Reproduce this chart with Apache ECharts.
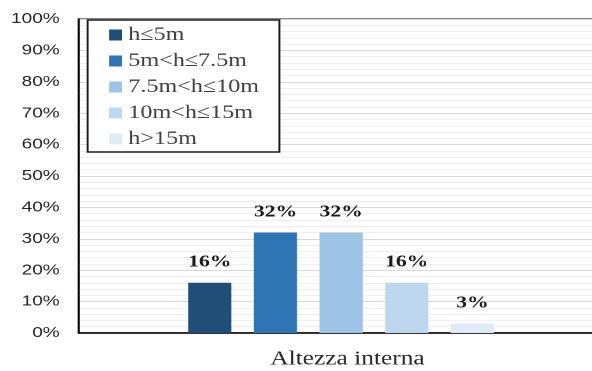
<!DOCTYPE html>
<html>
<head>
<meta charset="utf-8">
<script src="https://cdn.jsdelivr.net/npm/echarts@6/dist/echarts.min.js"></script>
<style>
  html, body { margin: 0; padding: 0; background: #fff; overflow: hidden; }
  /* the chart is laid out on a narrower canvas and widened to the page width */
  #chart { width: 466px; height: 371px; transform: scaleX(1.2704); transform-origin: 0 0; }
</style>
</head>
<body>
<div id="chart"></div>
<script>
// Share of buildings by internal height class
const categories = ['Altezza interna'];
const seriesNames = ['h\u22645m', '5m<h\u22647.5m', '7.5m<h\u226410m', '10m<h\u226415m', 'h>15m'];
const seriesValues = [16, 32, 32, 16, 3];
const seriesColors = ['#1F4E79', '#2E75B6', '#9DC3E6', '#BDD7EE', '#DEEBF7'];
const yTicks = [0, 10, 20, 30, 40, 50, 60, 70, 80, 90, 100];

const chart = echarts.init(document.getElementById('chart'), null, { devicePixelRatio: 2 });

const series = seriesNames.map((name, i) => ({
  name: name,
  type: 'bar',
  data: [seriesValues[i]],
  barWidth: 34,
  barGap: '52%',
  itemStyle: { color: seriesColors[i] },
  label: {
    show: true,
    position: 'top',
    distance: 12,
    formatter: p => p.value + '%',
    fontFamily: 'Liberation Serif',
    fontWeight: 'bold',
    fontSize: 17,
    color: '#1a1a1a'
  }
}));

chart.setOption({
  animation: false,
  backgroundColor: '#fff',
  // plot area runs past the right edge of the page
  grid: {
    left: 62, width: 413, top: 19, bottom: 38,
    outerBoundsMode: 'none',
    containLabel: false,
    show: true, borderColor: '#595959', borderWidth: 1.5
  },
  legend: {
    orient: 'vertical',
    left: 69, top: 20,
    padding: [5, 16, 3, 17],
    backgroundColor: '#fff',
    borderColor: '#1a1a1a',
    borderWidth: 1.5,
    icon: 'rect',
    itemWidth: 10,
    itemHeight: 11,
    itemGap: 6,
    data: seriesNames,
    textStyle: {
      fontFamily: 'Liberation Serif',
      fontSize: 19,
      lineHeight: 20,
      color: '#404040'
    }
  },
  xAxis: {
    type: 'category',
    data: categories,
    axisLine: { lineStyle: { color: '#000', width: 1.5 } },
    axisTick: { show: false },
    axisLabel: {
      margin: 16,
      padding: [0, 0, 0, 10],
      fontFamily: 'Liberation Serif',
      fontSize: 20,
      color: '#262626'
    }
  },
  yAxis: {
    type: 'value',
    min: yTicks[0],
    max: yTicks[yTicks.length - 1],
    interval: yTicks[1] - yTicks[0],
    axisLine: { show: true, lineStyle: { color: '#000', width: 1.5 } },
    axisTick: { show: false },
    axisLabel: {
      formatter: '{value}%',
      margin: 15,
      fontFamily: 'Liberation Sans',
      fontSize: 15,
      color: '#262626'
    },
    splitLine: { lineStyle: { color: '#d9d9d9', width: 1 } },
    minorTick: { show: false, splitNumber: 5 },
    minorSplitLine: { show: true, lineStyle: { color: '#efefef', width: 1 } }
  },
  series: series
});
</script>
</body>
</html>
